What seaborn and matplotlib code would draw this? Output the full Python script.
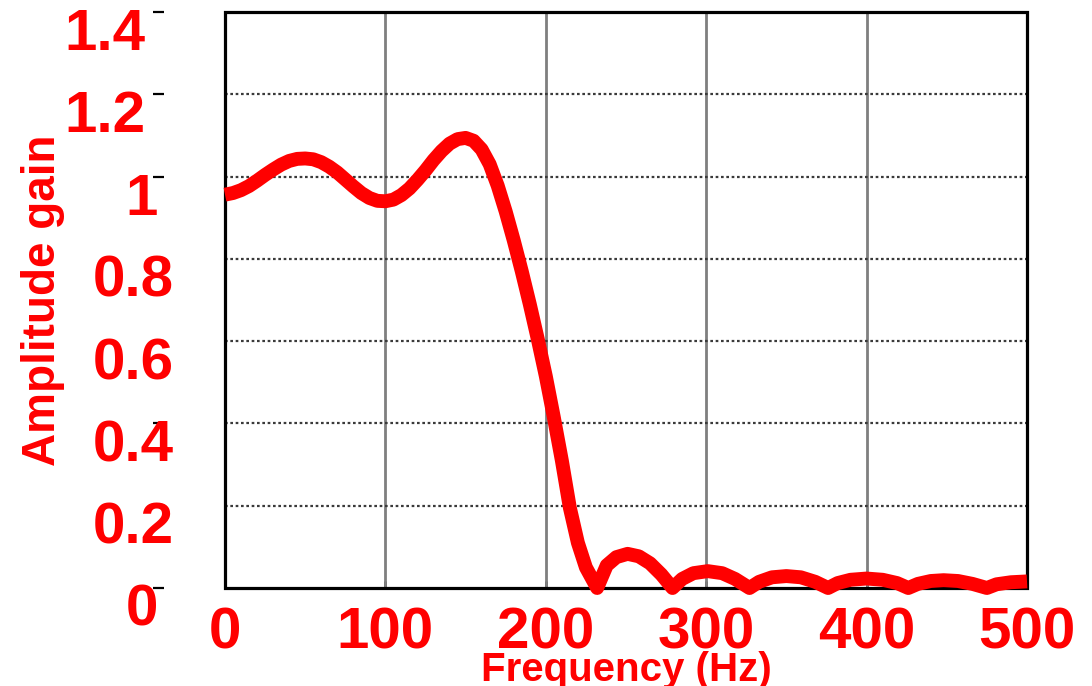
import matplotlib
matplotlib.use("Agg")
import matplotlib.pyplot as plt
import matplotlib.transforms as mtransforms
from matplotlib.patches import Rectangle
import seaborn as sns
import pandas as pd

# ---- data ----
freq_hz = [0, 5, 10, 15, 20, 25, 30, 35, 40, 45, 50, 55, 60, 65, 70, 75, 80, 85,
           90, 95, 100, 105, 110, 115, 120, 125, 130, 135, 140, 145, 150, 155,
           160, 165, 170, 175, 180, 185, 190, 195, 200, 205, 210, 215, 220, 225,
           232, 238, 244, 251, 258, 265, 272, 279, 285, 292, 301, 310, 318, 327,
           333, 341, 350, 359, 368, 376, 382, 390, 400, 410, 419, 426, 432, 440,
           448, 457, 466, 475, 481, 490, 500]
gain = [0.956, 0.960, 0.967, 0.977, 0.990, 1.004, 1.017, 1.029, 1.038, 1.043,
        1.044, 1.042, 1.035, 1.024, 1.010, 0.993, 0.976, 0.960, 0.948, 0.941,
        0.940, 0.944, 0.955, 0.971, 0.992, 1.015, 1.040, 1.062, 1.080, 1.091,
        1.094, 1.087, 1.066, 1.030, 0.978, 0.915, 0.845, 0.770, 0.690, 0.605,
        0.515, 0.415, 0.310, 0.195, 0.110, 0.050,
        0.0, 0.055, 0.075, 0.083, 0.077, 0.060, 0.033, 0.0,
        0.022, 0.036, 0.041, 0.036, 0.022, 0.0,
        0.015, 0.026, 0.029, 0.026, 0.015, 0.0,
        0.012, 0.020, 0.023, 0.020, 0.012, 0.0,
        0.010, 0.017, 0.019, 0.017, 0.010, 0.0,
        0.009, 0.014, 0.016]
x_ticks = [0, 100, 200, 300, 400, 500]
y_ticks = [0, 0.2, 0.4, 0.6, 0.8, 1.0, 1.2, 1.4]
y_tick_labels = ["0", "0.2", "0.4", "0.6", "0.8", "1", "1.2", "1.4"]
x_label = "Frequency (Hz)"
y_label = "Amplitude gain"

# horizontal nudges (pixels) of the y tick labels, as rendered in the reference
y_label_dx_px = [5, 21, 21, 21, 21, 5, -7, -7]

df = pd.DataFrame({"f": freq_hz, "g": gain})

sns.set_style("white")
plt.rcParams["font.family"] = ["Liberation Sans", "DejaVu Sans"]

DPI = 100
fig = plt.figure(figsize=(10.92, 6.86), dpi=DPI)
ax = fig.add_axes([225 / 1092, 1 - 588 / 686, 802 / 1092, 576 / 686])

ax.set_xlim(0, 500)
ax.set_ylim(0, 1.4)

# grid
for xv in x_ticks[1:-1]:
    ax.axvline(xv, color="#7f7f7f", lw=2.0, zorder=1)
for yv in y_ticks[1:-1]:
    ax.axhline(yv, color="#3a3a3a", lw=1.6, ls=(0, (1.2, 1.2)), zorder=1)

# frame
for s in ax.spines.values():
    s.set_visible(False)
ax.add_patch(Rectangle((0, 0), 1, 1, transform=ax.transAxes, fill=False,
                       lw=2.3, edgecolor="black", zorder=3, clip_on=False))

sns.lineplot(data=df, x="f", y="g", ax=ax, color="#ff0000", linewidth=10,
             zorder=4, clip_on=False, solid_capstyle="butt",
             solid_joinstyle="round")

ax.set_xticks(x_ticks)
ax.set_xticklabels([str(v) for v in x_ticks])
ax.set_yticks(y_ticks)
ax.set_yticklabels(y_tick_labels)

ax.spines["left"].set_position(("outward", 72 * 72 / DPI))
ax.tick_params(axis="x", direction="in", length=5, width=1.8, color="black",
               labelsize=42, labelcolor="#ff0000", pad=13, bottom=True, top=False)
ax.tick_params(axis="y", direction="in", length=8, width=1.6, color="black",
               labelsize=42, labelcolor="#ff0000", pad=0, left=True, right=False)
for lab in ax.get_xticklabels() + ax.get_yticklabels():
    lab.set_fontweight("bold")
for lab, dx in zip(ax.get_yticklabels(), y_label_dx_px):
    off = mtransforms.ScaledTranslation(dx / DPI, -0.17, fig.dpi_scale_trans)
    lab.set_transform(lab.get_transform() + off)

ax.set_xlabel(x_label, fontsize=29, fontweight="bold", color="#ff0000")
ax.set_ylabel(y_label, fontsize=33, fontweight="bold", color="#ff0000")
ax.xaxis.set_label_coords(0.5, -0.11)
ax.yaxis.set_label_coords(-0.2, 0.5)

fig.savefig("out.png", dpi=DPI)
